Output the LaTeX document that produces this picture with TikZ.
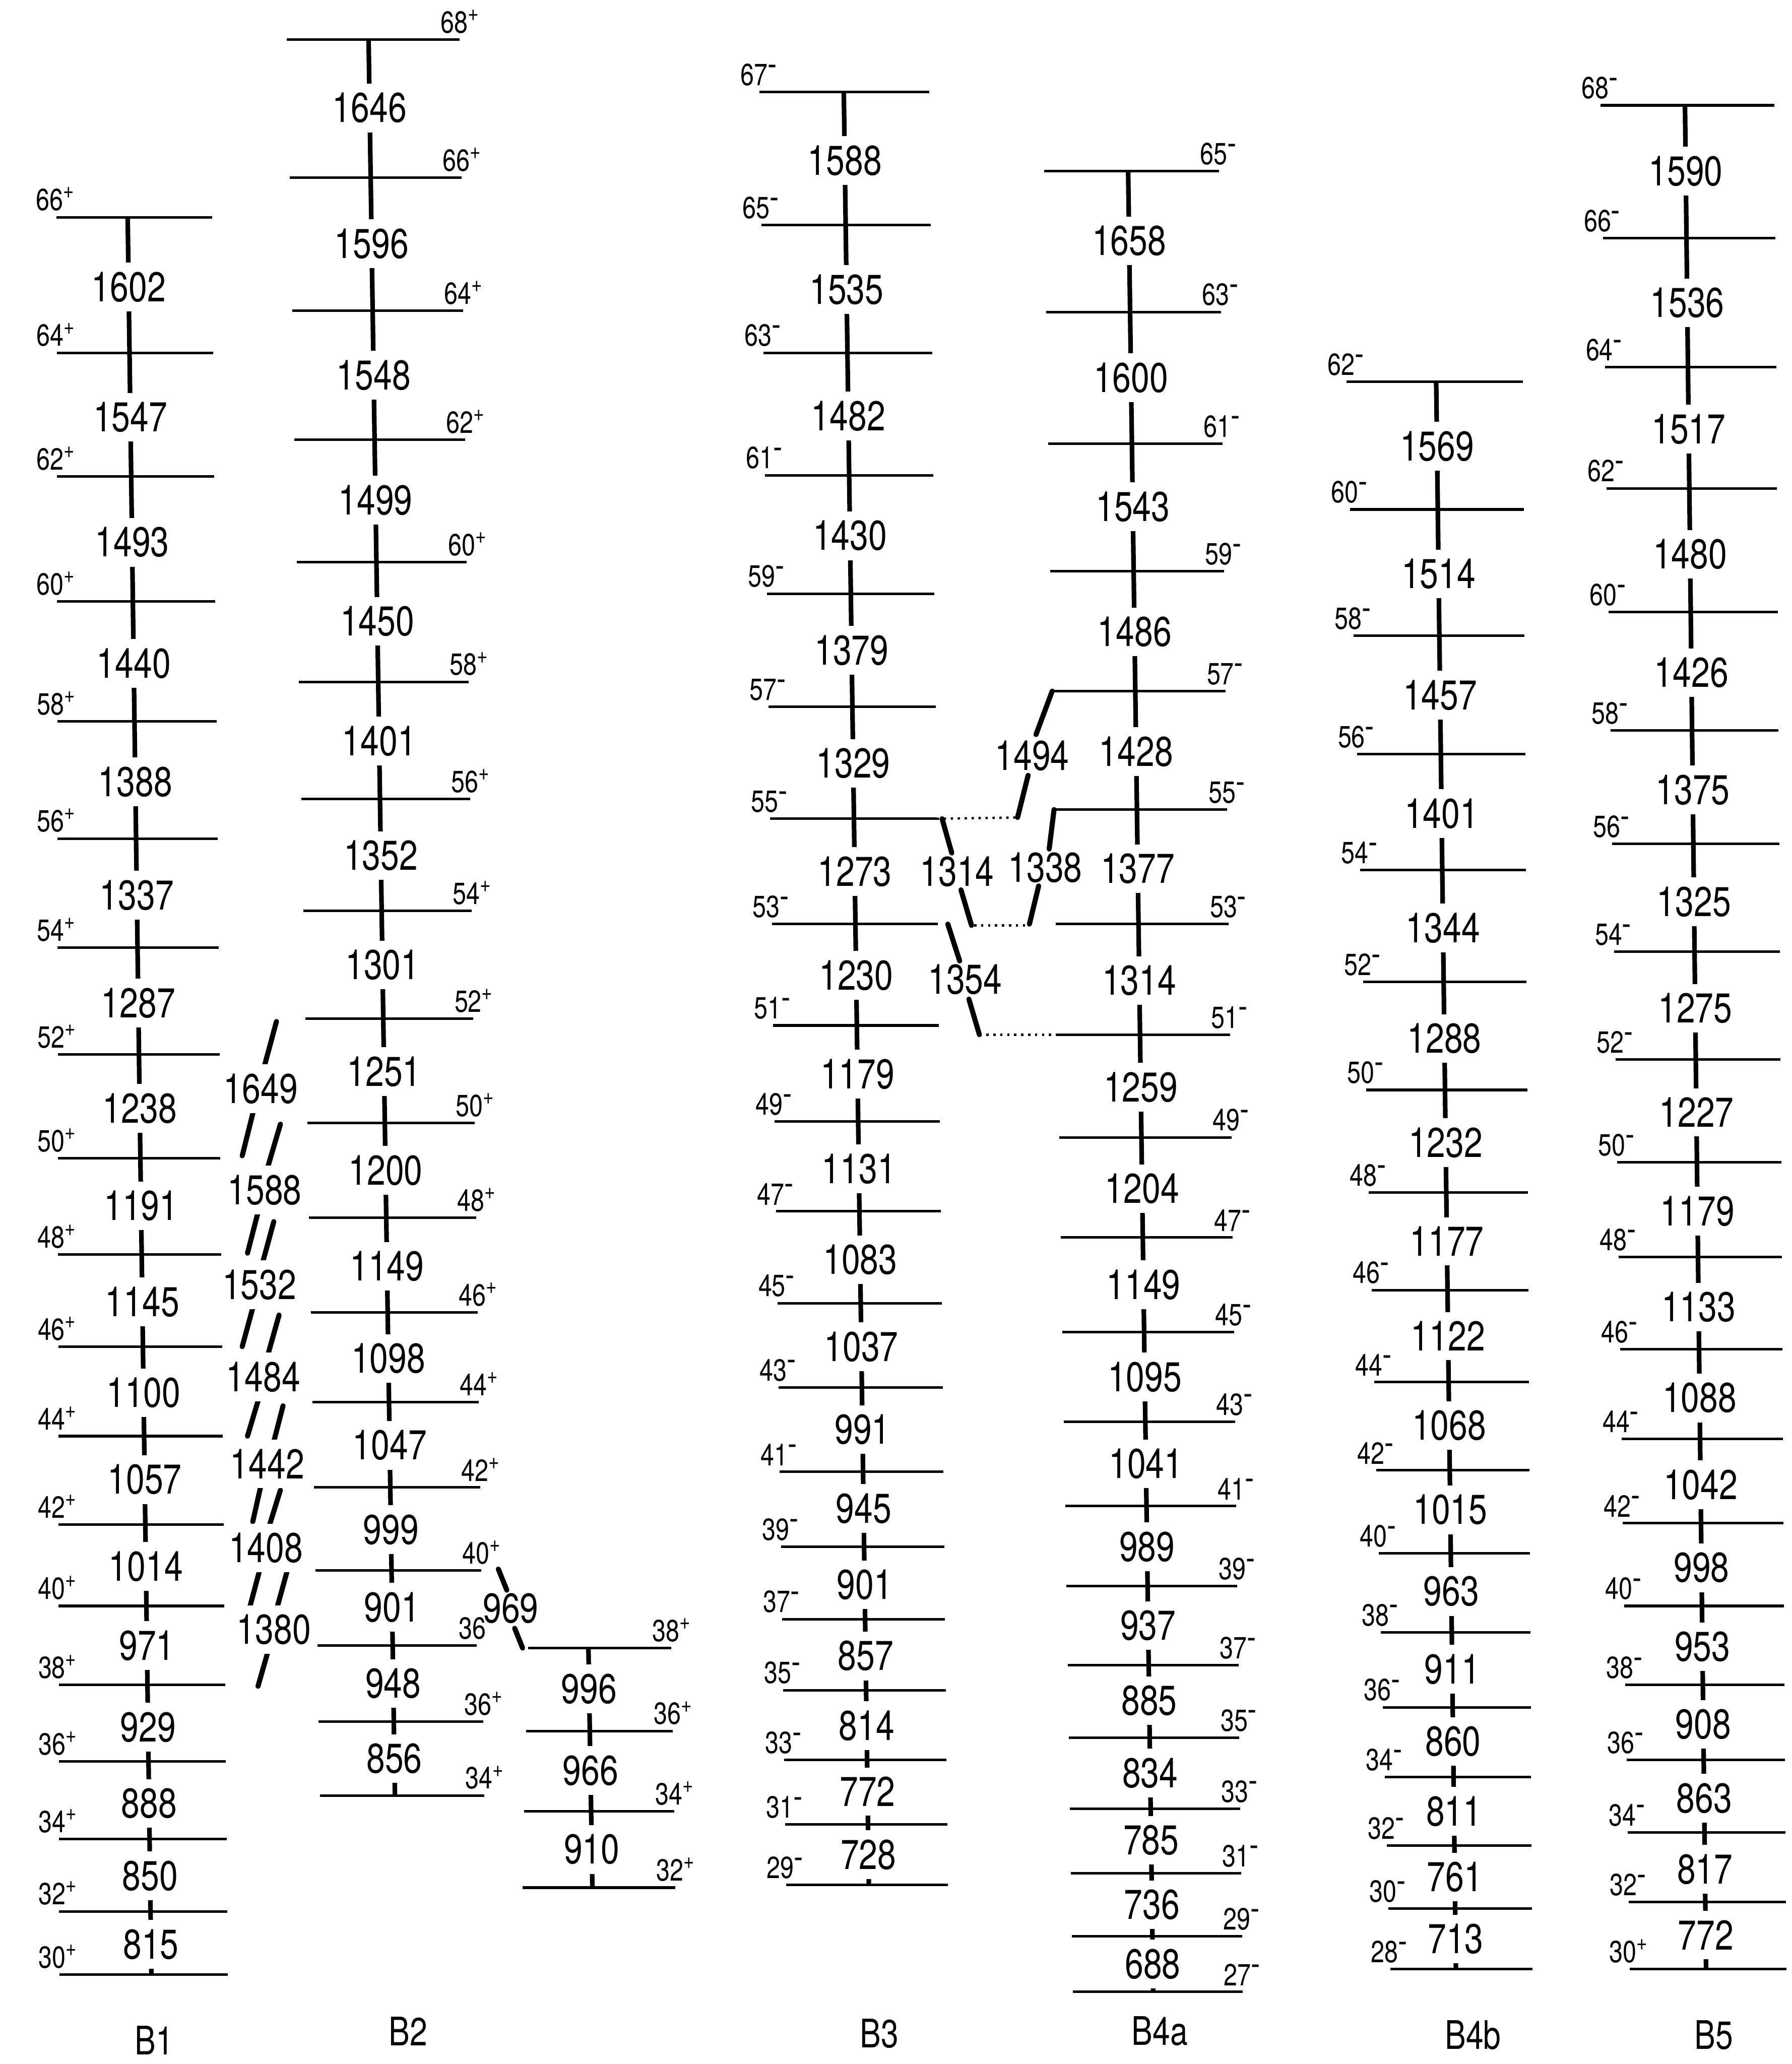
\documentclass[tikz,border=0pt]{standalone}
\usepackage{fontspec}
\newfontfamily\plotfont[FakeStretch=0.8]{TeX Gyre Heros}
\newcommand\spinsign[1]{\if#1-\raisebox{2.1pt}{\fontsize{7.5}{7.5}\selectfont-}%
  \else\raisebox{2.6pt}{\fontsize{5}{5}\selectfont+}\fi}
% band geometry: top y, bottom y, stem x (top,bottom), left ends (top,bottom), right ends (top,bottom)
\newcommand\bandgeom[8]{\def\bYt{#1}\def\bYb{#2}\def\bVt{#3}\def\bVb{#4}%
  \def\bLt{#5}\def\bLb{#6}\def\bRt{#7}\def\bRb{#8}}
\newcommand\stem[1]{\draw[cascade] (\bVt,\bYt) coordinate (#1-top) -- (\bVb,\bYb) coordinate (#1-bot);}
\newcommand\levels[3]{%
  \foreach \y/\j/\p in {#3}{
    \pgfmathsetmacro\frc{(\y-\bYt)/(\bYb-\bYt)}
    \pgfmathsetmacro\xl{\bLt+(\bLb-\bLt)*\frc}
    \pgfmathsetmacro\xr{\bRt+(\bRb-\bRt)*\frc}
    \draw[lvl] (\xl,\y) coordinate (#1-\j-l) -- (\xr,\y) coordinate (#1-\j-r);
    \if#2L\node[spinL] (#1-s\j) at ([shift={(14,-4)}]#1-\j-l) {\j\spinsign{\p}};
    \else\node[spinR] (#1-s\j) at ([shift={(-15,-4)}]#1-\j-r) {\j\spinsign{\p}};\fi
  }}
\newcommand\energies[2]{%
  \foreach \y/\e in {#2}{
    \pgfmathsetmacro\frc{(\y-\bYt)/(\bYb-\bYt)}
    \pgfmathsetmacro\xv{\bVt+(\bVb-\bVt)*\frc}
    \node[energy] (#1-e\e) at (\xv,\y) {\e};
  }}

\begin{document}
\begin{tikzpicture}[x=0.01cm, y=-0.01cm,
  lvl/.style={line width=0.55pt},
  cascade/.style={line width=1pt},
  feedline/.style={line width=1.1pt, line cap=round},
  dotlink/.style={line width=0.5pt, densely dotted},
  energy/.style={font=\plotfont\fontsize{9}{10}\selectfont, fill=white, inner xsep=1pt, inner ysep=2pt},
  elabel/.style={energy, fill=none},
  spinL/.style={font=\plotfont\fontsize{6.6}{7}\selectfont, anchor=south east, inner sep=0pt},
  spinR/.style={spinL, anchor=south west},
  bandname/.style={font=\plotfont\fontsize{8.5}{10}\selectfont}]
\useasboundingbox (0,0) rectangle (1361,1568);

% Band B1
\bandgeom{165}{1500}{97}{115}{43}{45}{161}{173}
\stem{B1}
\levels{B1}{L}{165/66/+,268/64/+,362/62/+,457/60/+,548/58/+,637/56/+,720/54/+,801/52/+,880/50/+,953/48/+,1023/46/+,1091/44/+,1158/42/+,1220/40/+,1280/38/+,1338/36/+,1397/34/+,1452/32/+,1500/30/+}
\energies{B1}{218/1602,317/1547,412/1493,504/1440,594/1388,680/1337,762/1287,842/1238,916/1191,989/1145,1058/1100,1124/1057,1190/1014,1250/971,1312/929,1370/888,1425/850,1477/815}

% Band B2
\bandgeom{30}{1364}{280}{300}{218}{243}{349}{368}
\stem{B2}
\levels{B2}{R}{30/68/+,135/66/+,236/64/+,334/62/+,427/60/+,518/58/+,607/56/+,692/54/+,774/52/+,853/50/+,925/48/+,997/46/+,1065/44/+,1130/42/+,1193/40/+,1308/36/+,1364/34/+}
\draw[lvl] (241,1250) coordinate (B2-38-l) -- (362,1250) coordinate (B2-38-r);
\node[spinR] (B2-s38) at ([shift={(-14,-4)}]B2-38-r) {36};
\energies{B2}{82/1646,185/1596,285/1548,380/1499,472/1450,563/1401,650/1352,733/1301,814/1251,889/1200,962/1149,1032/1098,1098/1047,1162/999,1221/901,1279/948,1336/856}

% B2 side feeding
\draw[feedline] (210,776) -- (200,813);
\foreach \a/\b/\c/\d in {193/842/184/878,213/854/203/888,197/917/188/952,208/928/199/961,
  193/990/184/1023,212/999/203/1031,197/1061/188/1091,215/1068/207/1099,
  199/1125/192/1156,213/1132/204/1161,198/1190/190/1220,218/1194/210/1223,204/1253/196/1281}
  \draw[feedline] (\a,\b) -- (\c,\d);
\foreach \y/\x/\e in {827/198/1649,904/201/1588,976/197/1532,1046/200/1484,1112/203/1442,1176/202/1408,1238/208/1380}
  \node[energy] (F-\e) at (\x,\y) {\e};

% Band B2 short branch
\bandgeom{1252}{1434}{447}{450}{401}{397}{510}{513}
\stem{B2s}
\levels{B2s}{R}{1252/38/+,1315/36/+,1376/34/+,1434/32/+}
\energies{B2s}{1283/996,1345/966,1405/910}
\draw[feedline] ([shift={(13,-1)}]B2-40-r) -- (385,1208);
\node[elabel] (L-969) at (388,1222) {969};
\draw[feedline] (391,1237) -- ([shift={(-4,0)}]B2s-38-l);

% Band B3
\bandgeom{70}{1432}{641}{660}{577}{597}{706}{720}
\stem{B3}
\levels{B3}{L}{70/67/-,171/65/-,268/63/-,361/61/-,451/59/-,537/57/-,622/55/-,702/53/-,779/51/-,852/49/-,920/47/-,990/45/-,1054/43/-,1118/41/-,1175/39/-,1230/37/-,1284/35/-,1337/33/-,1386/31/-,1432/29/-}
\energies{B3}{122/1588,220/1535,316/1482,407/1430,494/1379,580/1329,662/1273,741/1230,816/1179,888/1131,957/1083,1023/1037,1086/991,1146/945,1204/901,1258/857,1311/814,1361/772,1409/728}

% Band B4a
\bandgeom{130}{1513}{857}{876}{793}{815}{926}{944}
\stem{B4a}
\levels{B4a}{R}{130/65/-,237/63/-,337/61/-,434/59/-,525/57/-,615/55/-,702/53/-,786/51/-,864/49/-,940/47/-,1012/45/-,1080/43/-,1144/41/-,1205/39/-,1265/37/-,1320/35/-,1374/33/-,1423/31/-,1471/29/-,1513/27/-}
\energies{B4a}{183/1658,287/1600,385/1543,480/1486,571/1428,660/1377,745/1314,826/1259,903/1204,976/1149,1046/1095,1112/1041,1175/989,1235/937,1292/885,1347/834,1398/785,1447/736,1492/688}

% B3 <-> B4a crossings
\draw[dotlink] (B3-55-r) -- (773,621);
\draw[feedline] (B4a-57-l) -- (787,558);
\node[elabel] (X-1494) at (784,574) {1494};
\draw[feedline] (781,589) -- (773,621);
\draw[feedline] ([shift={(4,0)}]B3-55-r) -- (723,648);
\node[elabel] (X-1314) at (727,662) {1314};
\draw[feedline] (730,676) -- (738,703);
\draw[dotlink] (740,703) -- (782,703);
\draw[feedline] (B4a-55-l) -- (797,645);
\node[elabel] (X-1338) at (794,659) {1338};
\draw[feedline] (789,673) -- (782,702);
\draw[feedline] (720,702) -- (729,730);
\node[elabel] (X-1354) at (733,744) {1354};
\draw[feedline] (736,759) -- (744,786);
\draw[dotlink] (744,786) -- (B4a-51-l);

% Band B4b
\bandgeom{290}{1496}{1091}{1106}{1023}{1056}{1157}{1164}
\stem{B4b}
\levels{B4b}{L}{290/62/-,387/60/-,483/58/-,573/56/-,661/54/-,746/52/-,828/50/-,906/48/-,980/46/-,1050/44/-,1117/42/-,1180/40/-,1240/38/-,1297/36/-,1350/34/-,1402/32/-,1450/30/-,1496/28/-}
\energies{B4b}{339/1569,436/1514,528/1457,618/1401,705/1344,789/1288,868/1232,943/1177,1015/1122,1083/1068,1147/1015,1209/963,1268/911,1323/860,1376/811,1426/761,1473/713}

% Band B5
\bandgeom{80}{1496}{1280}{1296}{1216}{1238}{1348}{1357}
\stem{B5}
\levels{B5}{L}{80/68/-,181/66/-,279/64/-,371/62/-,465/60/-,555/58/-,641/56/-,723/54/-,805/52/-,883/50/-,955/48/-,1025/46/-,1093/44/-,1157/42/-,1220/40/-,1280/38/-,1337/36/-,1392/34/-,1445/32/-,1496/30/+}
\energies{B5}{130/1590,230/1536,326/1517,421/1480,511/1426,600/1375,685/1325,766/1275,845/1227,920/1179,993/1133,1062/1088,1128/1042,1191/998,1251/953,1310/908,1366/863,1420/817,1470/772}

% band names
\node[bandname] (B1-name) at (117,1550) {B1};
\node[bandname] (B2-name) at (310,1543) {B2};
\node[bandname] (B3-name) at (668,1545) {B3};
\node[bandname] (B4a-name) at (881,1543) {B4a};
\node[bandname] (B4b-name) at (1119,1546) {B4b};
\node[bandname] (B5-name) at (1302,1546) {B5};
\end{tikzpicture}
\end{document}
